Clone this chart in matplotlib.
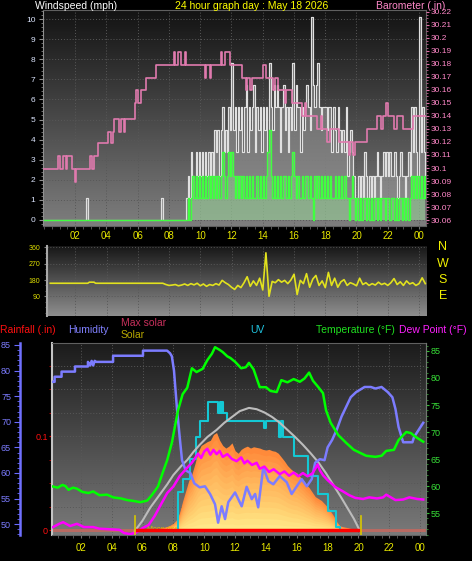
import numpy as np
import matplotlib
matplotlib.use('Agg')
import matplotlib.pyplot as plt
from matplotlib.colors import LinearSegmentedColormap
from matplotlib.ticker import MultipleLocator, FixedLocator
import matplotlib.transforms as mtransforms

plt.rcParams['font.family'] = ['Liberation Sans', 'DejaVu Sans']

# ---------------- data ----------------
hour_ticks = [2, 4, 6, 8, 10, 12, 14, 16, 18, 20, 22, 24]
hour_labels = ['02', '04', '06', '08', '10', '12', '14', '16', '18', '20', '22', '00']

# wind speed (mph): quiet night part, then 0.1 h samples from 09.1
gust_early_hours = [0.0, 2.7, 2.8, 7.5, 7.6]
gust_early = [0, 1.1, 0, 1.1, 0]
avg_early_hours = [0.0]
avg_early = [0]
wind_start = 9.1
wind_step = 0.1
gust_main = [
    1.1, 2.2, 1.1, 3.4, 2.2, 1.1, 3.4, 2.2, 3.4,
    2.2, 3.4, 1.1, 3.4, 2.2, 3.4, 2.2, 3.4, 2.2, 4.5,
    3.4, 4.5, 2.2, 4.5, 5.6, 3.4, 4.5, 3.4, 5.6, 4.5,
    7.8, 4.5, 5.6, 3.4, 5.6, 4.5, 5.6, 3.4, 5.6, 6.7,
    3.4, 5.6, 4.5, 5.6, 6.7, 3.4, 5.6, 4.5, 5.6, 3.4,
    5.6, 4.5, 5.6, 3.4, 7.8, 5.6, 4.5, 6.7, 5.6, 6.7,
    5.6, 3.4, 5.6, 6.7, 4.5, 5.6, 3.4, 5.6, 4.5, 7.8,
    4.5, 6.7, 5.6, 5.6, 3.4, 5.6, 4.5, 5.6, 6.7, 5.6,
    4.5, 10.1, 6.7, 5.6, 6.7, 7.8, 5.6, 4.5, 5.6, 5.6,
    5.6, 4.5, 5.6, 5.6, 3.4, 5.6, 4.5, 3.4, 5.6, 4.5,
    3.4, 4.5, 3.4, 5.6, 2.2, 3.4, 4.5, 3.4, 2.2, 1.1,
    1.1, 2.2, 1.1, 2.2, 1.1, 3.4, 2.2, 1.1, 2.2, 1.1,
    2.2, 1.1, 2.2, 3.4, 2.2, 1.1, 2.2, 3.4, 2.2, 3.4,
    2.2, 3.4, 2.2, 2.2, 3.4, 2.2, 1.1, 2.2, 3.4, 2.2,
    2.2, 1.1, 2.2, 3.4, 2.2, 5.6, 3.4, 5.6, 3.4, 2.2,
    10.1, 3.4, 5.6, 3.4, 2.2,
]
avg_main = [
    0, 1.1, 0, 1.1, 2.2, 1.1, 2.2, 1.1, 2.2,
    1.1, 2.2, 1.1, 2.2, 1.1, 2.2, 1.1, 2.2, 1.1, 2.2,
    1.1, 2.2, 1.1, 2.2, 3.4, 2.2, 1.1, 2.2, 3.4, 2.2,
    3.4, 2.2, 1.1, 2.2, 1.1, 2.2, 1.1, 2.2, 1.1, 2.2,
    1.1, 2.2, 1.1, 2.2, 1.1, 1.1, 2.2, 1.1, 2.2, 1.1,
    2.2, 1.1, 2.2, 3.4, 4.5, 2.2, 1.1, 2.2, 1.1, 2.2,
    1.1, 2.2, 1.1, 2.2, 2.2, 1.1, 2.2, 1.1, 2.2, 3.4,
    2.2, 1.1, 2.2, 1.1, 1.1, 2.2, 1.1, 2.2, 2.2, 1.1,
    2.2, 1.1, 0, 2.2, 1.1, 2.2, 1.1, 2.2, 1.1, 2.2,
    1.1, 2.2, 1.1, 2.2, 1.1, 1.1, 2.2, 1.1, 2.2, 1.1,
    2.2, 1.1, 2.2, 1.1, 1.1, 0, 1.1, 2.2, 1.1, 0,
    1.1, 0, 1.1, 0, 1.1, 1.1, 0, 1.1, 0, 1.1,
    0, 1.1, 1.1, 0, 1.1, 0, 1.1, 1.1, 0, 1.1,
    1.1, 0, 1.1, 1.1, 0, 1.1, 0, 1.1, 1.1, 0,
    1.1, 0, 1.1, 0, 1.1, 2.2, 1.1, 2.2, 1.1, 2.2,
    1.1, 2.2, 1.1, 2.2, 1.1,
]

# barometer (in)
baro_hours = [0.0, 0.9, 1.0, 1.2, 1.4, 1.5, 1.8, 1.98, 2.05, 2.95,
              3.05, 3.2, 3.45, 4.1, 4.3, 4.4, 4.5, 4.8, 4.9, 5.1,
              5.2, 5.8, 5.9, 6.0, 6.2, 6.5, 7.2, 8.3, 8.4, 8.6,
              8.8, 9.0, 9.1, 10.3, 10.4, 10.6, 10.7, 11.3, 11.4, 11.6,
              11.9, 12.7, 12.9, 13.0, 13.2, 13.3, 14.0, 14.2, 14.65, 14.8,
              15.0, 15.4, 15.5, 15.9, 16.5, 16.7, 16.8, 17.5, 17.7, 17.8,
              18.1, 18.3, 18.9, 19.5, 19.6, 19.8, 19.9, 20.7, 21.3, 21.6,
              21.7, 21.9, 22.0, 22.4, 22.6, 23.0, 23.6, 24.45]
baro_vals = [30.099, 30.109, 30.099, 30.109, 30.099, 30.109, 30.099, 30.089, 30.099, 30.109,
             30.099, 30.109, 30.119, 30.128, 30.119, 30.128, 30.138, 30.128, 30.138, 30.128,
             30.138, 30.150, 30.160, 30.150, 30.160, 30.169, 30.179, 30.189, 30.179, 30.189,
             30.179, 30.189, 30.179, 30.169, 30.179, 30.169, 30.179, 30.189, 30.179, 30.189,
             30.179, 30.169, 30.160, 30.169, 30.160, 30.169, 30.179, 30.169, 30.160, 30.169,
             30.160, 30.150, 30.160, 30.150, 30.140, 30.150, 30.140, 30.130, 30.140, 30.130,
             30.120, 30.130, 30.120, 30.110, 30.120, 30.110, 30.120, 30.130, 30.140, 30.130,
             30.140, 30.150, 30.140, 30.130, 30.140, 30.130, 30.140, 30.140]
baro_ticks = [30.06, 30.07, 30.08, 30.09, 30.10, 30.11, 30.12, 30.13, 30.14,
              30.15, 30.16, 30.17, 30.18, 30.19, 30.20, 30.21, 30.22]

# wind direction (deg)
dir_early_hours = [0.4, 2.8, 2.9, 3.2, 3.3, 7.4]
dir_early = [162, 162, 168, 168, 162, 162]
dir_start = 7.6
dir_step = 0.2
dir_main = [
    162, 155, 150, 152, 155, 148, 152, 158, 150, 160,
    153, 162, 148, 158, 145, 155, 150, 160, 152, 178,
    165, 155, 140, 128, 150, 138, 165, 198, 145, 175,
    150, 190, 125, 330, 90, 172, 165, 182, 168, 178,
    160, 180, 212, 100, 178, 160, 215, 140, 185, 205,
    150, 175, 138, 222, 150, 190, 140, 170, 182, 150,
    165, 158, 148, 190, 155, 165, 150, 160, 152, 168,
    155, 162, 150, 165, 188, 155, 170, 150, 175, 158,
    165, 150, 160, 192, 160,
]
compass = ['N', 'W', 'S', 'E']
compass_deg = [360, 270, 180, 90]

# humidity (%)
hum_hours = [0.19, 0.30, 0.30, 0.75, 0.75, 1.62, 1.62, 2.46, 2.46, 2.6,
             2.7, 2.8, 2.9, 3.0, 4.09, 4.09, 6.03, 6.03, 7.59, 7.78,
             7.9, 8.04, 8.24, 8.43, 8.56, 8.8, 9.1, 9.35, 9.7, 10.05,
             10.38, 10.7, 10.9, 11.13, 11.35, 11.56, 12.0, 12.43, 12.75, 13.08,
             13.3, 13.5, 13.83, 14.16, 14.48, 14.9, 15.35, 15.67, 16.0, 16.32,
             16.65, 16.97, 17.19, 17.5, 17.8, 18.0, 18.3, 18.6, 18.9, 19.2,
             19.5, 19.85, 20.4, 20.8, 21.1, 21.5, 21.9, 22.2, 22.4, 22.6,
             22.9, 23.5, 23.6, 23.9, 24.2]
hum_vals = [77.8, 77.8, 78.8, 78.8, 79.8, 79.8, 80.8, 80.8, 81.7, 81.0,
            81.9, 81.0, 81.9, 81.7, 81.7, 82.9, 82.9, 83.9, 83.9, 83.4,
            82.8, 80.0, 72.3, 66.4, 62.5, 60.5, 60.0, 58.0, 57.2, 57.4,
            55.9, 53.9, 50.3, 53.5, 51.0, 54.3, 56.2, 53.5, 57.3, 54.9,
            55.9, 53.3, 61.1, 58.4, 57.8, 59.4, 58.2, 55.9, 57.4, 58.8,
            57.4, 58.8, 62.0, 62.7, 62.5, 65.0, 66.5, 68.5, 71.0, 72.9,
            74.8, 75.8, 76.8, 76.8, 76.5, 76.8, 75.8, 74.8, 72.5, 69.0,
            66.0, 66.0, 67.0, 68.4, 69.8]

# temperature (F)
temp_hours = [0.2, 0.5, 0.8, 1.0, 1.2, 1.5, 1.75, 2.1, 2.5, 2.8,
              3.2, 3.7, 4.1, 4.6, 5.0, 5.5, 5.85, 6.3, 6.6, 7.0,
              7.3, 7.6, 7.9, 8.1, 8.3, 8.6, 8.9, 9.2, 9.5, 9.9,
              10.2, 10.5, 10.7, 11.0, 11.2, 11.5, 11.7, 12.0, 12.4, 12.7,
              12.9, 13.2, 13.6, 14.0, 14.3, 14.7, 15.0, 15.4, 15.8, 16.2,
              16.5, 16.8, 17.05, 17.4, 17.7, 17.9, 18.2, 18.7, 19.2, 19.7,
              20.5, 21.1, 21.5, 21.8, 22.3, 22.6, 23.1, 23.4, 23.7, 24.2]
temp_vals = [59.9, 59.7, 60.2, 60.0, 59.3, 59.7, 59.5, 58.9, 58.7, 59.0,
             58.3, 58.4, 57.9, 57.7, 57.4, 57.2, 57.0, 57.3, 58.3, 59.9,
             62.4, 64.8, 68.0, 71.0, 74.0, 77.0, 78.2, 81.8, 81.1, 81.7,
             83.3, 84.5, 85.7, 85.2, 84.8, 84.0, 83.7, 83.0, 81.8, 82.0,
             82.8, 81.6, 78.3, 78.3, 77.6, 77.4, 79.6, 79.2, 79.8, 79.3,
             79.9, 81.0, 79.5, 78.3, 77.2, 74.0, 71.7, 69.4, 68.0, 66.7,
             65.6, 65.4, 65.6, 66.5, 66.7, 68.5, 70.0, 69.8, 69.1, 68.2]

# dew point (F)
dew_hours = [0.2, 0.6, 0.85, 1.3, 1.75, 2.2, 2.8, 3.2, 3.8, 4.5,
             4.8, 5.2, 5.6, 6.0, 6.4, 6.8, 7.1, 7.6, 8.0, 8.4,
             8.9, 9.2, 9.6, 9.8, 10.0, 10.2, 10.4, 10.6, 10.8, 11.0,
             11.2, 11.5, 11.8, 12.1, 12.4, 12.6, 12.8, 13.1, 13.4, 13.6,
             13.9, 14.2, 14.5, 14.9, 15.2, 15.5, 15.8, 16.1, 16.4, 16.7,
             17.0, 17.2, 17.35, 17.5, 17.7, 18.0, 18.5, 19.0, 19.4, 19.8,
             20.3, 20.7, 21.2, 21.6, 21.8, 22.1, 22.4, 22.9, 23.3, 23.8,
             24.2]
dew_vals = [52.4, 53.0, 53.3, 52.6, 53.0, 52.4, 52.4, 52.1, 52.0, 51.9,
            51.3, 51.1, 51.4, 52.2, 52.8, 54.5, 56.1, 58.7, 59.9, 61.8,
            63.4, 64.3, 66.0, 65.2, 66.4, 66.9, 65.8, 66.7, 65.9, 66.5,
            65.4, 65.9, 65.0, 64.6, 65.3, 64.2, 64.7, 63.9, 64.3, 63.2,
            63.6, 62.6, 63.1, 62.2, 62.7, 61.9, 62.5, 61.8, 62.4, 61.8,
            62.3, 63.2, 64.0, 62.9, 62.0, 61.1, 59.8, 59.0, 58.3, 57.8,
            57.6, 57.9, 57.7, 57.9, 58.4, 57.9, 57.4, 57.5, 57.9, 57.6,
            57.5]

# solar radiation (W/m2), 0.2 h samples from 05.8
solar_start = 5.8
solar_step = 0.2
solar_vals = [0, 5, 8, 10, 12, 15, 18, 22, 28, 35,
              45, 60, 85, 140, 230, 310, 390, 440, 520, 610,
              660, 675, 690, 700, 745, 760, 700, 660, 640, 655,
              680, 620, 600, 630, 645, 655, 640, 650, 645, 640,
              630, 625, 630, 620, 615, 600, 570, 540, 505, 480,
              460, 450, 420, 395, 360, 335, 300, 265, 250, 235,
              210, 185, 150, 115, 70, 40, 32, 28, 22, 18,
              12, 8, 0]

# max solar (W/m2)
ms_hours = [5.5, 6.0, 6.5, 7.1, 7.6, 8.0, 8.5, 8.9, 9.3, 9.7,
            10.2, 10.8, 11.3, 11.8, 12.3, 12.9, 13.4, 13.9, 14.4, 14.9,
            15.4, 15.9, 16.4, 16.9, 17.4, 17.9, 18.4, 18.9, 19.3, 19.7,
            20.1]
ms_vals = [0, 80, 180, 278, 360, 432, 500, 548, 610, 664,
           725, 780, 835, 880, 925, 950, 940, 915, 880, 835,
           780, 725, 665, 600, 530, 445, 350, 255, 175, 95,
           0]

# UV index
uv_hours = [8.25, 8.3, 8.62, 9.08, 9.47, 9.73, 10.25, 10.9, 11.02, 11.09,
            11.15, 11.22, 11.48, 13.9, 14.0, 14.85, 14.98, 15.11, 15.82, 16.73,
            17.38, 18.03, 18.55, 18.8]
uv_vals = [0, 2.1, 2.8, 3.9, 5.1, 6.0, 7.0, 6.4, 7.0, 6.4,
           7.0, 6.4, 6.0, 5.6, 6.0, 5.1, 6.0, 5.1, 4.1, 3.0,
           2.0, 1.1, 0.2, 0]

# rainfall (in) and sunrise / sunset
rain_hours = [5.51, 20.17]
rain_vals = [0.0, 0.0]
sun_events = [5.51, 20.17]

# ---------------- figure ----------------
W, H = 472, 561
fig = plt.figure(figsize=(W / 100, H / 100), dpi=100, facecolor='black')


def rect(l, t, r, b):
    return [l / W, 1 - b / H, (r - l) / W, (b - t) / H]


def gradient_bg(ax, top, bottom):
    cmap = LinearSegmentedColormap.from_list('bg', [bottom, top])
    grad = np.linspace(0, 1, 256).reshape(-1, 1)
    ax.imshow(grad, extent=[0, 1, 0, 1], transform=ax.transAxes, origin='lower',
              aspect='auto', cmap=cmap, zorder=-10, interpolation='bilinear')


def ftext(x, y, s, color, size=7.5, **kw):
    fig.text(x / W, 1 - y / H, s, color=color, fontsize=size, va='center', **kw)


GRID = dict(color='#585858', linestyle=(0, (1, 2)), linewidth=0.7)
XCOL = '#e8e800'

# ======== top panel: wind speed + barometer ========
ax1 = fig.add_axes(rect(43, 10, 426, 226))
ax1.set_facecolor('black')
gradient_bg(ax1, '#131313', '#7e7e7e')

gust_x = np.concatenate([gust_early_hours, wind_start + wind_step * np.arange(len(gust_main))])
gust_y = np.concatenate([gust_early, gust_main])
avg_x = np.concatenate([avg_early_hours, wind_start + wind_step * np.arange(len(avg_main))])
avg_y = np.concatenate([avg_early, avg_main])

ax1.fill_between(gust_x, gust_y, 0, step='post', color='#a0a0a0', alpha=0.5, lw=0, zorder=2)
ax1.step(gust_x, gust_y, where='post', color='#e0e0e0', lw=0.85, zorder=3)
ax1.fill_between(avg_x, avg_y, 0, step='post', color='#90ff90', alpha=0.3, lw=0, zorder=4)
ax1.step(avg_x, avg_y, where='post', color='#40ff40', lw=1.0, zorder=5)

ax1.set_xlim(-0.064, 24.45)
ax1.set_ylim(-0.3, 10.45)
ax1.set_xticks(hour_ticks)
ax1.set_xticklabels(hour_labels)
ax1.xaxis.set_minor_locator(MultipleLocator(0.5))
ax1.yaxis.set_major_locator(MultipleLocator(1))
ax1.yaxis.set_minor_locator(MultipleLocator(0.2))
ax1.grid(True, which='major', **GRID)
ax1.set_axisbelow(True)
ax1.tick_params(axis='x', which='major', colors='#707070', labelcolor=XCOL, labelsize=7,
                length=2, pad=1.5)
ax1.tick_params(axis='x', which='minor', colors='#606060', length=2)
ax1.tick_params(axis='y', which='major', colors='#909090', labelcolor='#dde6ff', labelsize=6,
                length=3, pad=2.5)
ax1.tick_params(axis='y', which='minor', colors='#808080', length=1.5)
for s in ax1.spines.values():
    s.set_color('#606060')
ax1.spines['left'].set_color('#909090')

ax1b = ax1.twinx()
ax1b.step(baro_hours, baro_vals, where='post', color='#e07aae', lw=1.2, zorder=6)
ax1b.set_ylim(30.0554, 30.2215)
ax1b.yaxis.set_major_locator(FixedLocator(baro_ticks))
ax1b.set_yticklabels(['%g' % v for v in baro_ticks])
ax1b.yaxis.set_minor_locator(MultipleLocator(0.0025))
ax1b.tick_params(axis='y', which='major', colors='#e070a8', labelcolor='#ff88c8', labelsize=6,
                 length=2, pad=1.5)
ax1b.tick_params(axis='y', which='minor', colors='#c06090', length=1.5)
for s in ax1b.spines.values():
    s.set_visible(False)

ftext(35, 6, 'Windspeed (mph)', 'white')
ftext(175, 6, '24 hour graph day : May 18 2026', '#ffff00')
ftext(376, 6, 'Barometer (.in)', '#ff88c8')

# ======== middle panel: wind direction ========
ax2 = fig.add_axes(rect(47, 246, 427, 316))
ax2.set_facecolor('black')
gradient_bg(ax2, '#171717', '#8e8e8e')
dir_x = np.concatenate([dir_early_hours, dir_start + dir_step * np.arange(len(dir_main))])
dir_y = np.concatenate([dir_early, dir_main])
ax2.plot(dir_x, dir_y, color='#e2e21e', lw=1.2, zorder=3)
ax2.set_xlim(0.19, 24.51)
ax2.set_ylim(-18.7, 367.7)
ax2.set_xticks(hour_ticks)
ax2.tick_params(axis='x', length=0, labelbottom=False)
ax2.set_yticks(compass_deg[::-1])
ax2.yaxis.set_minor_locator(MultipleLocator(30))
ax2.tick_params(axis='y', which='major', colors='#808080', labelcolor='#e0e000', labelsize=5,
                length=2, pad=3)
ax2.tick_params(axis='y', which='minor', colors='#707070', length=1.5)
ax2.grid(True, which='major', **GRID)
ax2.set_axisbelow(True)
for s in ax2.spines.values():
    s.set_visible(False)
ax2.spines['left'].set_visible(True)
ax2.spines['left'].set_color('#a8a8a8')
ax2.spines['left'].set_linewidth(1.5)
trans2 = mtransforms.blended_transform_factory(ax2.transAxes, ax2.transData)
for lab, deg in zip(compass, compass_deg):
    ax2.text(1.042, deg, lab, transform=trans2, color='#f0f000', fontsize=9,
             ha='center', va='center')

# ======== bottom panel ========
axB = fig.add_axes(rect(52, 343, 426, 535))  # rain scale + background
axB.set_facecolor('black')
gradient_bg(axB, '#1b1b1b', '#7a7a7a')
axB.set_xlim(0.13, 24.38)
axB.set_ylim(-0.0053, 0.199)
axB.axhline(0, color='#b86a62', lw=2.2, zorder=1)
axB.set_xticks(hour_ticks)
axB.set_xticklabels(hour_labels)
axB.xaxis.set_minor_locator(MultipleLocator(0.5))
axB.set_yticks([0, 0.1])
axB.set_yticklabels(['0', '0.1'])
axB.yaxis.set_minor_locator(MultipleLocator(0.025))
axB.grid(True, which='major', axis='x', **GRID)
axB.grid(True, which='both', axis='y', **GRID)
axB.set_axisbelow(True)
axB.tick_params(axis='x', which='major', colors='#707070', labelcolor=XCOL, labelsize=7,
                length=2, pad=3.5)
axB.tick_params(axis='x', which='minor', colors='#606060', length=2)
axB.tick_params(axis='y', which='major', colors='#e00000', labelcolor='#ff1010', labelsize=6.5,
                length=2, pad=1)
axB.tick_params(axis='y', which='minor', colors='#c00000', length=2)
for s in axB.spines.values():
    s.set_color('#606060')
axB.spines['left'].set_color('#c4c4c4')
axB.spines['left'].set_linewidth(1.5)

# solar (layered fill gives the orange-to-yellow gradient)
ax_s = axB.twinx()
ax_s.set_axis_off()
solar_x = solar_start + solar_step * np.arange(len(solar_vals))
solar_arr = np.array(solar_vals, dtype=float)
solar_cmap = LinearSegmentedColormap.from_list('sol', ['#fff090', '#ffd070', '#ffb058', '#ff8a3a'])
for frac in np.linspace(1.0, 0.08, 14):
    ax_s.fill_between(solar_x, solar_arr * frac, 0, color=solar_cmap(frac), lw=0)
ax_s.text(6.3, 8, 'Moon rise', color='#d8c000', fontsize=5, va='center', ha='left')
ax_s.set_ylim(-31, 1451)

# UV
ax_uv = axB.twinx()
ax_uv.set_axis_off()
ax_uv.step(uv_hours, uv_vals, where='post', color='#14c8d4', lw=1.5)
ax_uv.set_ylim(-0.217, 10.22)

# max solar
ax_ms = axB.twinx()
ax_ms.set_axis_off()
ax_ms.plot(ms_hours, ms_vals, color='#bcbcbc', lw=1.5)
ax_ms.set_ylim(-31, 1451)

# humidity
ax_h = axB.twinx()
ax_h.plot(hum_hours, hum_vals, color='#7c7cff', lw=1.8)
ax_h.set_ylim(47.89, 85.39)
ax_h.yaxis.tick_left()
ax_h.yaxis.set_major_locator(MultipleLocator(5))
ax_h.yaxis.set_minor_locator(MultipleLocator(1))
ax_h.tick_params(axis='y', which='major', colors='#6a6aff', labelcolor='#7c7cff', labelsize=6.5,
                 length=4, pad=2.5)
ax_h.tick_params(axis='y', which='minor', colors='#6a6aff', length=2.5)
for name, s in ax_h.spines.items():
    s.set_visible(name == 'left')
ax_h.spines['left'].set_position(('outward', 23))
ax_h.spines['left'].set_color('#7070ff')
ax_h.spines['left'].set_linewidth(1.8)

# temperature + dew point
ax_t = axB.twinx()
ax_t.plot(dew_hours, dew_vals, color='#ff00ff', lw=1.8)
ax_t.plot(temp_hours, temp_vals, color='#00ff00', lw=1.8)
ax_t.set_ylim(50.93, 86.48)
ax_t.yaxis.set_major_locator(MultipleLocator(5))
ax_t.yaxis.set_minor_locator(MultipleLocator(1))
ax_t.tick_params(axis='y', which='major', colors='#30c030', labelcolor='#38e038', labelsize=6.5,
                 length=2.5, pad=1)
ax_t.tick_params(axis='y', which='minor', colors='#30a030', length=1.5)
for name, s in ax_t.spines.items():
    s.set_visible(name == 'right')
ax_t.spines['right'].set_color('#707870')

# rain line + sunrise/sunset markers on top
ax_r = axB.twinx()
ax_r.set_axis_off()
ax_r.plot(rain_hours, rain_vals, color='#ff0000', lw=2.5, solid_capstyle='butt')
for h in sun_events:
    ax_r.axvline(h, ymin=0, ymax=0.1, color='#d8c800', lw=1.2)
ax_r.set_ylim(-0.0053, 0.199)

# bottom panel titles
ftext(0, 330, 'Rainfall (.in)', '#ff1010')
ftext(68, 330, 'Humidity', '#8080ff')
ftext(121, 323, 'Max solar', '#c8305c')
ftext(121, 335, 'Solar', '#b8a800')
ftext(250, 330, 'UV', '#20c4e0')
ftext(316, 330, 'Temperature (°F)', '#20e020')
ftext(399, 330, 'Dew Point (°F)', '#ff20ff')

fig.savefig('out.png', dpi=100, facecolor='black')
